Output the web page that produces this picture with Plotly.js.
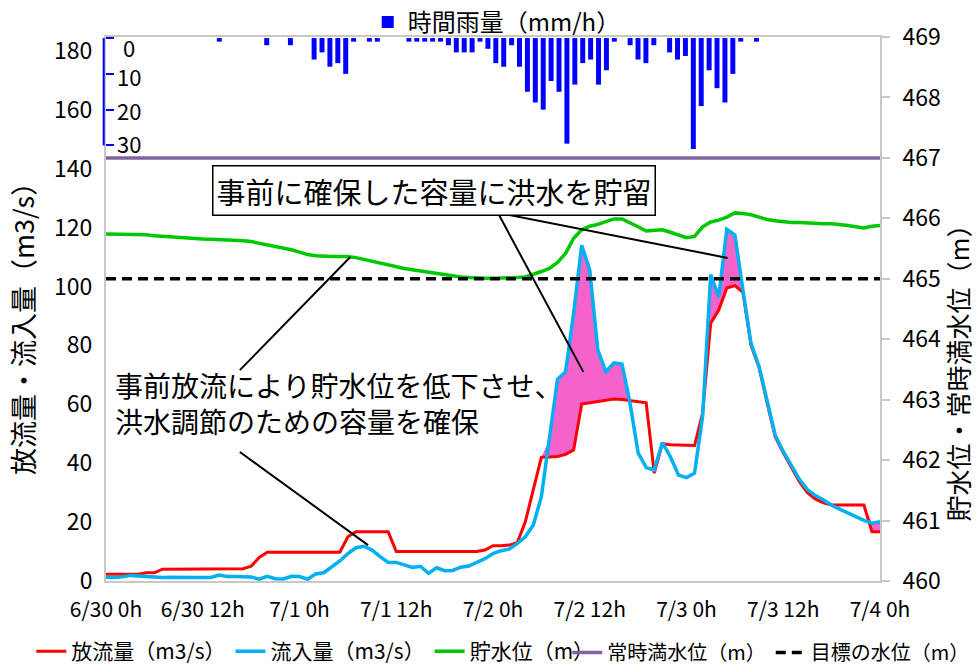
<!DOCTYPE html>
<html>
<head>
<meta charset="utf-8">
<script src="https://cdn.plot.ly/plotly-3.0.1.min.js"></script>
<style>html,body{margin:0;padding:0;background:#fff;}#chart{width:978px;height:672px;}</style>
</head>
<body>
<div id="chart"></div>
<script>
// x tick labels (every 12 hours, hourly data from 6/30 0h to 7/4 0h)
const tickLabels = ['6/30 0h','6/30 12h','7/1 0h','7/1 12h','7/2 0h','7/2 12h','7/3 0h','7/3 12h','7/4 0h'];

// rainfall axis tick values (mm/h)
const rainTicks = [0, 10, 20, 30];

// hourly rainfall (mm/h), index = hour from 6/30 0h
const rainfall = [
  0,0,0,0,0,0,0,0,0,0, 0,0,0,0,1,0,0,0,0,0,
  2,0,0,2,0,0,6,4,8,7, 10,1,0,1,1,0,0,0,1,1,
  1,1,1,2,4,4,4,1,3,7, 8,2,8,15,18,20,12,15,29.5,13,
  7,6,13,9,1,0,2,6,7,2, 0,4,6,5,31,19,9,14,18,10,
  1,0,1,0,0,0,0,0,0,0, 0,0,0,0,0,0,0
];

// outflow 放流量 (m3/s)
const outflow = [
  2.3,2.3,2.3,2.3,2.3,2.8,2.8,4.0,4.0,4.0, 4.0,4.0,4.0,4.1,4.1,4.1,4.1,4.2,5.0,8.0,
  9.8,9.8,9.8,9.8,9.8,9.8,9.8,9.8,9.8,9.8, 15.0,16.7,16.7,16.7,16.7,16.7,10.0,10.0,9.9,9.9,
  9.9,10.0,10.0,10.0,10.0,10.0,10.0,10.5,12.0,12.0, 12.2,13.0,20.0,31.0,42.0,42.1,42.3,43.0,44.5,60.1,
  60.5,61.0,61.4,61.8,61.6,61.3,61.0,60.5,36.6,46.6, 46.3,46.2,46.1,46.0,57.0,87.5,92.0,99.5,100.3,98.0,
  80.0,72.5,60.5,49.0,43.5,38.5,33.7,30.0,27.8,26.5, 25.8,25.8,25.8,25.8,25.8,16.7,16.7
];

// inflow 流入量 (m3/s)
const inflow = [
  1.3,1.2,1.4,1.9,1.7,1.5,1.3,1.2,1.3,1.2, 1.3,1.2,1.2,1.2,2.0,1.5,1.5,1.5,1.4,0.6,
  1.6,0.8,0.7,1.6,1.5,0.6,2.4,2.8,4.9,6.8, 9.3,11.3,11.8,10.5,8.3,6.3,6.3,5.4,4.6,5.0,
  2.6,4.5,3.5,3.6,4.7,5.1,6.4,7.6,9.3,10.3, 10.8,12.7,15.0,19.0,28.6,48.0,68.5,71.0,91.0,114.0,
  105.6,78.4,71.1,74.1,73.7,60.3,43.5,38.5,37.7,47.0, 42.2,36.0,35.1,36.6,56.0,104.0,96.5,119.4,117.5,98.8,
  80.7,72.8,61.0,49.6,44.0,39.5,34.5,31.0,29.0,27.5, 25.7,24.4,23.1,21.8,20.6,19.6,20.1
];

// reservoir water level 貯水位 (m)
const waterLevel = [
  465.74,465.74,465.74,465.74,465.74,465.73,465.71,465.70,465.69,465.68,
  465.67,465.665,465.66,465.655,465.65,465.64,465.635,465.63,465.615,465.59,
  465.56,465.53,465.51,465.48,465.44,465.40,465.38,465.37,465.37,465.37,
  465.37,465.35,465.32,465.28,465.25,465.22,465.19,465.17,465.15,465.13,
  465.11,465.08,465.06,465.04,465.03,465.02,465.01,465.01,465.01,465.01,
  465.01,465.02,465.03,465.07,465.12,465.17,465.27,465.42,465.67,465.81,
  465.87,465.90,465.94,465.99,465.99,465.93,465.86,465.79,465.80,465.81,
  465.77,465.72,465.68,465.70,465.86,465.94,465.97,466.02,466.09,466.08,
  466.06,466.02,465.98,465.96,465.94,465.93,465.93,465.92,465.92,465.91,
  465.91,465.90,465.88,465.86,465.84,465.87,465.88
];

const normalFullLevel = 467.0;   // 常時満水位
const targetLevel = 465.0;       // 目標の水位

const hours = outflow.map((_, i) => i);
const rainIdx = rainfall.map((_, i) => i);
const tickHours = tickLabels.map((_, i) => i * 12);
const upperFill = inflow.map((v, i) => Math.max(v, outflow[i]));
const normalArr = hours.map(() => normalFullLevel);
const targetArr = hours.map(() => targetLevel);

const FONT = '"Noto Sans CJK JP", "Noto Sans", sans-serif';
const GRAY = '#c8c8c8';

const traces = [
  {x: hours, y: outflow, type: 'scatter', mode: 'lines', line: {width: 0, color: 'rgba(0,0,0,0)'},
   showlegend: false, hoverinfo: 'skip', xaxis: 'x', yaxis: 'y'},
  {x: hours, y: upperFill, type: 'scatter', mode: 'lines', fill: 'tonexty', fillcolor: '#F562CC',
   line: {width: 0, color: 'rgba(0,0,0,0)'}, showlegend: false, hoverinfo: 'skip', xaxis: 'x', yaxis: 'y'},
  {x: hours, y: outflow, name: '放流量（m3/s）', type: 'scatter', mode: 'lines',
   line: {color: '#FF0000', width: 3}, xaxis: 'x', yaxis: 'y', legend: 'legend'},
  {x: hours, y: inflow, name: '流入量（m3/s）', type: 'scatter', mode: 'lines',
   line: {color: '#00B0F0', width: 3.5}, xaxis: 'x', yaxis: 'y', legend: 'legend'},
  {x: hours, y: waterLevel, name: '貯水位（m）', type: 'scatter', mode: 'lines',
   line: {color: '#00C800', width: 3.5}, xaxis: 'x', yaxis: 'y2', legend: 'legend'},
  {x: hours, y: normalArr, name: '常時満水位（m）', type: 'scatter', mode: 'lines',
   line: {color: '#8064A2', width: 3.5}, xaxis: 'x', yaxis: 'y2', legend: 'legend3'},
  {x: hours, y: targetArr, name: '目標の水位（m）', type: 'scatter', mode: 'lines',
   line: {color: '#000000', width: 3.5, dash: '10px,6px'}, xaxis: 'x', yaxis: 'y2', legend: 'legend3'},
  {x: rainIdx, y: rainfall, name: '時間雨量（mm/h）', type: 'bar', width: 0.63,
   marker: {color: '#0000FF', line: {width: 0}}, xaxis: 'x2', yaxis: 'y3', legend: 'legend2'}
];

// rain-axis labels placed beside the blue axis (inside the plot), as text
const rainLabelShift = [-9, -2, 0, 2.5];
const rainLabelAnn = rainTicks.map((v, i) => ({
  xref: 'paper', yref: 'y3', x: 0.03, y: v, yshift: rainLabelShift[i],
  xanchor: 'center', yanchor: 'middle', text: String(v), showarrow: false, font: {size: 22}
}));

const bottomLegend = (x, size) => ({
  orientation: 'h', traceorder: 'normal', xref: 'container', yref: 'container', x: x, y: 0.0,
  xanchor: 'left', yanchor: 'bottom', font: {size: size}, bgcolor: 'rgba(0,0,0,0)', itemwidth: 30
});

const layout = {
  width: 978, height: 672,
  margin: {l: 106, r: 98, t: 37, b: 91, autoexpand: false},
  paper_bgcolor: '#fff', plot_bgcolor: '#fff',
  font: {family: FONT, color: '#000', size: 22},
  showlegend: true,
  xaxis: {
    range: [0, 96], tickvals: tickHours, ticktext: tickLabels, tickangle: 0,
    showline: true, linecolor: GRAY, linewidth: 2, mirror: true,
    ticks: '', showgrid: false, zeroline: false, tickfont: {size: 21}, ticklabelstandoff: 9
  },
  xaxis2: {overlaying: 'x', range: [-0.342, 97.63], visible: false, anchor: 'y3'},
  yaxis: {
    range: [0, 184.7], tickvals: [0,20,40,60,80,100,120,140,160,180],
    showline: true, linecolor: GRAY, linewidth: 2, ticks: '', showgrid: false, zeroline: false,
    tickfont: {size: 23}, ticklabelstandoff: 7
  },
  yaxis2: {
    overlaying: 'y', side: 'right', range: [460, 469],
    tickvals: [460,461,462,463,464,465,466,467,468,469],
    showline: true, linecolor: GRAY, linewidth: 2, ticks: 'outside', ticklen: 8, tickcolor: GRAY, tickwidth: 2,
    showgrid: false, zeroline: false, tickfont: {size: 23}, ticklabelstandoff: 8
  },
  yaxis3: {
    overlaying: 'y', side: 'left', anchor: 'x', range: [151.7, -0.3],
    tickvals: rainTicks, ticks: 'inside', ticklen: 8, tickcolor: '#0000FF', tickwidth: 2,
    showticklabels: false, showline: false, showgrid: false, zeroline: false
  },
  legend: bottomLegend(0.032, 21),
  legend3: bottomLegend(0.58, 20),
  legend2: {
    orientation: 'h', xref: 'container', yref: 'container', x: 0.376, y: 1.0,
    xanchor: 'left', yanchor: 'top', font: {size: 24}, bgcolor: 'rgba(0,0,0,0)'
  },
  shapes: [
    {type: 'line', xref: 'paper', yref: 'y3', x0: -0.003, x1: -0.003, y0: 0, y1: 30,
     line: {color: '#0000FF', width: 2}},
    {type: 'line', xref: 'x', yref: 'y', x0: 48.6, y0: 125.0, x1: 59.2, y1: 71.0, line: {color: '#000', width: 2}},
    {type: 'line', xref: 'x', yref: 'y', x0: 48.6, y0: 125.0, x1: 77.1, y1: 109.7, line: {color: '#000', width: 2}},
    {type: 'line', xref: 'x', yref: 'y', x0: 16.6, y0: 71.6, x1: 30.3, y1: 110.0, line: {color: '#000', width: 2}},
    {type: 'line', xref: 'x', yref: 'y', x0: 16.6, y0: 43.8, x1: 32.5, y1: 12.2, line: {color: '#000', width: 2}}
  ],
  annotations: rainLabelAnn.concat([
    {xref: 'paper', yref: 'paper', x: 0.4244, y: 0.717, xanchor: 'center', yanchor: 'middle',
     text: '事前に確保した容量に洪水を貯留', showarrow: false, font: {size: 29},
     bgcolor: '#fff', bordercolor: '#000', borderwidth: 1.5, borderpad: 3},
    {xref: 'paper', yref: 'paper', x: 0.009, y: 0.328, xanchor: 'left', yanchor: 'middle', align: 'left',
     text: '事前放流により貯水位を低下させ、<br>洪水調節のための容量を確保', showarrow: false, font: {size: 28}},
    {xref: 'paper', yref: 'paper', x: -0.1085, y: 0.476, xanchor: 'center', yanchor: 'middle',
     text: '放流量・流入量（m3/s）', textangle: -90, showarrow: false, font: {size: 27}},
    {xref: 'paper', yref: 'paper', x: 1.1, y: 0.395, xanchor: 'center', yanchor: 'middle',
     text: '貯水位・常時満水位（m）', textangle: -90, showarrow: false, font: {size: 26}}
  ])
};

Plotly.newPlot('chart', traces, layout, {displayModeBar: false, staticPlot: true});
</script>
</body>
</html>
